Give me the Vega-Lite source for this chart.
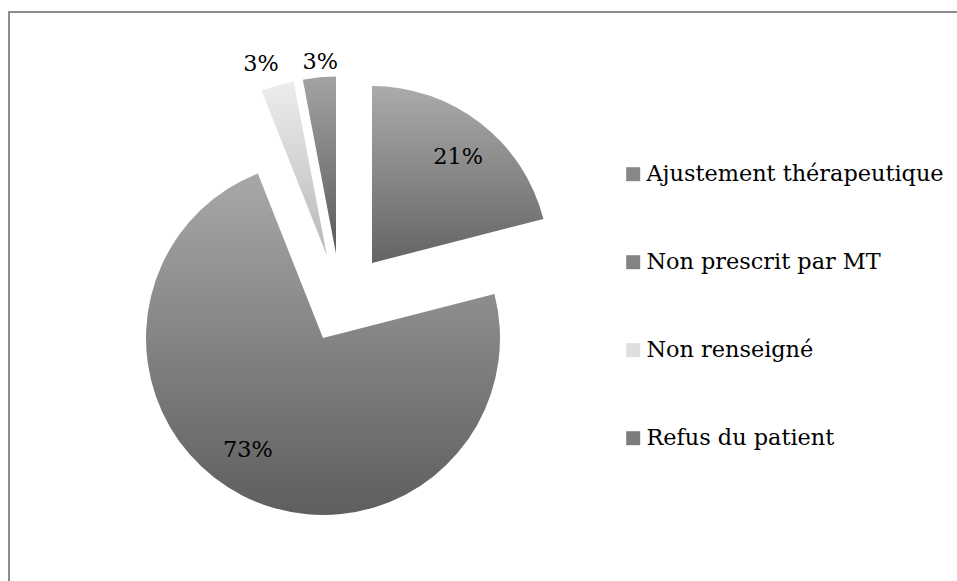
{
  "$schema": "https://vega.github.io/schema/vega-lite/v6.json",
  "width": 970,
  "height": 590,
  "autosize": {"type": "none"},
  "padding": {"left": 9, "top": 12, "right": 0, "bottom": 0},
  "background": "white",
  "view": {"stroke": "#8c8c8c", "strokeWidth": 2, "fill": "white"},
  "config": {"view": {"stroke": "#8c8c8c", "strokeWidth": 2}, "font": "DejaVu Serif"},
  "data": {"values": [
    {"cat": "Ajustement thérapeutique", "value": 21, "label": "21%"},
    {"cat": "Non prescrit par MT", "value": 73, "label": "73%"},
    {"cat": "Non renseigné", "value": 3, "label": "3%"},
    {"cat": "Refus du patient", "value": 3, "label": "3%"}
  ]},
  "layer": [
    {
      "transform": [
        {"stack": "value", "groupby": [], "sort": [{"field": "cat", "order": "ascending"}], "as": ["v0", "v1"]},
        {"filter": "datum.cat === 'Ajustement thérapeutique'"}
      ],
      "mark": {"type": "arc", "outerRadius": 177, "xOffset": -122, "yOffset": -44,
        "fill": {"gradient": "linear", "x1": 0, "y1": 0, "x2": 0, "y2": 1,
          "stops": [{"offset": 0, "color": "#ababab"}, {"offset": 1, "color": "#646464"}]}},
      "encoding": {
        "theta": {"field": "v0", "type": "quantitative", "scale": {"domain": [0, 100]}},
        "theta2": {"field": "v1"}
      }
    },
    {
      "transform": [
        {"stack": "value", "groupby": [], "sort": [{"field": "cat", "order": "ascending"}], "as": ["v0", "v1"]},
        {"filter": "datum.cat === 'Non prescrit par MT'"}
      ],
      "mark": {"type": "arc", "outerRadius": 177, "xOffset": -171, "yOffset": 31,
        "fill": {"gradient": "linear", "x1": 0, "y1": 0, "x2": 0, "y2": 1,
          "stops": [{"offset": 0, "color": "#a8a8a8"}, {"offset": 1, "color": "#5e5e5e"}]}},
      "encoding": {
        "theta": {"field": "v0", "type": "quantitative", "scale": {"domain": [0, 100]}},
        "theta2": {"field": "v1"}
      }
    },
    {
      "transform": [
        {"stack": "value", "groupby": [], "sort": [{"field": "cat", "order": "ascending"}], "as": ["v0", "v1"]},
        {"filter": "datum.cat === 'Non renseigné'"}
      ],
      "mark": {"type": "arc", "outerRadius": 177, "xOffset": -167.2, "yOffset": -51.7,
        "fill": {"gradient": "linear", "x1": 0, "y1": 0, "x2": 0, "y2": 1,
          "stops": [{"offset": 0, "color": "#ededed"}, {"offset": 1, "color": "#b8b8b8"}]}},
      "encoding": {
        "theta": {"field": "v0", "type": "quantitative", "scale": {"domain": [0, 100]}},
        "theta2": {"field": "v1"}
      }
    },
    {
      "transform": [
        {"stack": "value", "groupby": [], "sort": [{"field": "cat", "order": "ascending"}], "as": ["v0", "v1"]},
        {"filter": "datum.cat === 'Refus du patient'"}
      ],
      "mark": {"type": "arc", "outerRadius": 177, "xOffset": -158, "yOffset": -53.5,
        "fill": {"gradient": "linear", "x1": 0, "y1": 0, "x2": 0, "y2": 1,
          "stops": [{"offset": 0, "color": "#a3a3a3"}, {"offset": 1, "color": "#5a5a5a"}]}},
      "encoding": {
        "theta": {"field": "v0", "type": "quantitative", "scale": {"domain": [0, 100]}},
        "theta2": {"field": "v1"}
      }
    },
    {
      "mark": {"type": "text", "radius": 134, "xOffset": -118, "yOffset": -44, "fontSize": 22.4, "font": "DejaVu Serif", "color": "#000000", "baseline": "middle", "align": "center"},
      "encoding": {
        "theta": {"field": "value", "type": "quantitative", "stack": true, "scale": {"domain": [0, 100]}},
        "order": {"field": "cat", "type": "nominal", "sort": "ascending"},
        "text": {"condition": {"test": "datum.cat === 'Ajustement thérapeutique'", "field": "label"}, "value": ""}
      }
    },
    {
      "mark": {"type": "text", "radius": 130, "xOffset": -187, "yOffset": 27.5, "fontSize": 22.4, "font": "DejaVu Serif", "color": "#000000", "baseline": "middle", "align": "center"},
      "encoding": {
        "theta": {"field": "value", "type": "quantitative", "stack": true, "scale": {"domain": [0, 100]}},
        "order": {"field": "cat", "type": "nominal", "sort": "ascending"},
        "text": {"condition": {"test": "datum.cat === 'Non prescrit par MT'", "field": "label"}, "value": ""}
      }
    },
    {
      "mark": {"type": "text", "radius": 176, "xOffset": -184, "yOffset": -73.5, "fontSize": 22.4, "font": "DejaVu Serif", "color": "#000000", "baseline": "middle", "align": "center"},
      "encoding": {
        "theta": {"field": "value", "type": "quantitative", "stack": true, "scale": {"domain": [0, 100]}},
        "order": {"field": "cat", "type": "nominal", "sort": "ascending"},
        "text": {"condition": {"test": "datum.cat === 'Non renseigné'", "field": "label"}, "value": ""}
      }
    },
    {
      "mark": {"type": "text", "radius": 168, "xOffset": -158, "yOffset": -77.5, "fontSize": 22.4, "font": "DejaVu Serif", "color": "#000000", "baseline": "middle", "align": "center"},
      "encoding": {
        "theta": {"field": "value", "type": "quantitative", "stack": true, "scale": {"domain": [0, 100]}},
        "order": {"field": "cat", "type": "nominal", "sort": "ascending"},
        "text": {"condition": {"test": "datum.cat === 'Refus du patient'", "field": "label"}, "value": ""}
      }
    },
    {
      "transform": [{"filter": "false"}],
      "mark": {"type": "square", "opacity": 1},
      "encoding": {
        "color": {
          "field": "cat", "type": "nominal",
          "scale": {
            "domain": ["Ajustement thérapeutique", "Non prescrit par MT", "Non renseigné", "Refus du patient"],
            "range": ["#878787", "#838383", "#dedede", "#7d7d7d"]
          },
          "legend": {
            "title": null,
            "orient": "none",
            "legendX": 613,
            "legendY": 151,
            "direction": "vertical",
            "symbolType": "square",
            "symbolSize": 196,
            "symbolStrokeWidth": 0,
            "symbolOpacity": 1,
            "labelFont": "DejaVu Serif",
            "labelFontSize": 22.4,
            "labelColor": "#000000",
            "labelOffset": 2,
            "labelLimit": 400,
            "rowPadding": 65,
            "padding": 0
          }
        }
      }
    }
  ]
}
